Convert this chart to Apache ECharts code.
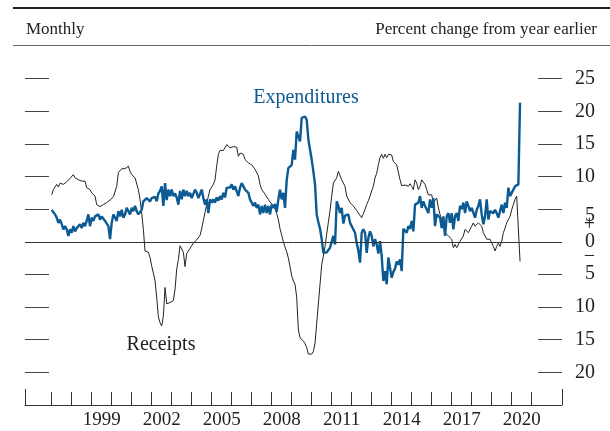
<!DOCTYPE html>
<html>
<head>
<meta charset="utf-8">
<script src="https://cdn.jsdelivr.net/npm/echarts@6/dist/echarts.min.js"></script>
<style>
  html, body { margin: 0; padding: 0; background: #fff; }
  #chart { width: 610px; height: 431px; }
</style>
</head>
<body>
<div id="chart"></div>
<script>
// monthly data, first point = Jan 1997
const startYear = 1997;

const receipts = [
  7.2, 8.0, 7.8, 8.8, 8.4, 9.0, 8.7, 8.8, 8.8, 9.2, 9.5, 9.7,
  9.9, 10.3, 9.8, 9.9, 9.5, 9.8, 9.3, 9.6, 9.3, 8.3, 8.5, 8.0,
  7.5, 7.3, 7.0, 5.7, 5.5, 5.4, 5.2, 5.7, 5.4, 6.0, 6.2, 6.4,
  6.6, 6.9, 7.0, 8.5, 10.6, 10.8, 11.2, 11.0, 11.2, 11.3, 11.6, 10.8,
  10.3, 10.1, 9.8, 9.5, 8.0, 6.5, 4.4, 1.9, -1.4, -1.7, -1.6, -2.4,
  -3.7, -4.8, -6.0, -8.5, -11.5, -12.4, -12.9, -11.4, -7.0, -9.5, -9.3, -9.3,
  -9.1, -9.0, -7.3, -4.2, -2.7, -0.6, -0.6, -1.6, -3.8, -1.8, -1.5, -1.0,
  -0.8, -0.2, 0.1, 0.3, 0.6, 1.0, 2.0, 3.3, 4.5, 5.8, 7.0, 8.0,
  8.3, 8.8, 9.5, 11.6, 13.4, 14.0, 14.2, 14.0, 14.4, 14.9, 15.2, 14.4,
  14.2, 14.6, 14.3, 14.5, 13.1, 13.6, 13.5, 13.4, 12.6, 12.4, 12.1, 11.8,
  11.8, 11.6, 11.1, 11.3, 10.1, 8.8, 8.0, 7.8, 7.3, 7.0, 6.5, 6.1,
  5.8, 5.5, 5.0, 4.4, 3.4, 2.0, 1.0, 0.0, -0.8, -1.5, -2.5, -3.8,
  -5.2, -6.0, -6.5, -8.5, -13.5, -14.7, -14.9, -15.2, -15.6, -16.2, -17.2, -17.5,
  -17.2, -16.8, -15.5, -12.5, -9.5, -6.5, -3.5, -2.2, -0.7, 1.2, 3.0, 4.8,
  7.0, 9.0, 8.8, 9.8, 10.8, 10.8, 9.5, 9.0, 8.5, 7.0, 6.8, 6.0,
  6.0, 5.5, 5.2, 4.8, 4.4, 4.2, 3.7, 4.3, 5.0, 5.7, 6.3, 7.0,
  7.8, 8.5, 9.8, 10.5, 11.8, 12.9, 13.4, 12.8, 13.4, 12.9, 13.4, 13.1,
  13.3, 12.3, 12.5, 11.8, 12.0, 9.5, 8.6, 8.8, 8.7, 8.8, 8.5, 8.9,
  8.5, 8.0, 9.5, 9.0, 8.0, 8.5, 9.5, 9.3, 8.8, 8.0, 7.2, 7.0,
  7.2, 6.0, 5.8, 6.7, 5.2, 4.2, 3.4, 2.4, 1.4, 1.1, 0.9, 0.6,
  0.4, -0.9, -0.4, -0.9, -1.2, 0.1, 0.4, 0.9, 1.9, 1.6, 1.4, 1.9,
  2.4, 2.9, 2.4, 2.2, 2.9, 2.6, 2.4, 1.4, 0.9, 0.4, 0.5, 0.4,
  0.4, -0.7, -1.4, -0.7, -0.2, -0.7, 0.1, 1.4, 2.1, 2.9, 3.4, 3.9,
  4.9, 5.7, 6.5, 7.0, 6.7, -3.0
];

const expenditures = [
  4.9, 4.7, 4.2, 3.7, 2.9, 3.4, 2.7, 1.9, 2.4, 1.9, 0.9, 1.9,
  1.4, 2.4, 1.6, 2.1, 1.9, 2.7, 2.1, 2.9, 2.4, 3.2, 4.2, 2.4,
  3.7, 3.2, 3.9, 3.7, 4.2, 3.4, 3.9, 4.2, 3.2, 3.4, 2.4, 0.4,
  2.9, 4.2, 4.4, 3.2, 4.7, 3.9, 4.9, 3.7, 4.2, 5.2, 4.7, 4.2,
  5.2, 4.7, 5.5, 4.7, 4.2, 4.4, 4.9, 6.2, 5.9, 6.7, 6.4, 6.2,
  6.7, 6.4, 6.9, 6.2, 7.4, 7.8, 8.5, 5.5, 9.0, 6.4, 8.0, 7.0,
  8.0, 7.0, 7.4, 6.8, 5.7, 7.8, 6.5, 8.0, 7.0, 7.8, 7.0, 7.5,
  6.7, 7.0, 8.0, 7.5, 6.7, 7.0, 8.0, 6.7, 5.7, 6.5, 4.4, 6.5,
  6.0, 6.5, 6.0, 6.8, 6.3, 7.0, 6.5, 7.5, 6.8, 8.3, 8.5, 8.3,
  8.8, 8.0, 8.5, 8.5, 7.0, 8.3, 9.0, 8.5, 8.0, 7.8, 7.5, 6.5,
  6.2, 5.5, 6.0, 5.2, 5.7, 4.2, 5.5, 4.4, 5.7, 4.4, 5.5, 4.2,
  5.7, 5.2, 5.8, 4.6, 6.5, 8.0, 6.5, 7.5, 5.2, 9.5, 11.3, 11.0,
  11.8, 14.1, 12.6, 16.9, 16.6, 15.4, 19.0, 19.2, 19.2, 18.7, 15.7, 14.1,
  12.6, 10.8, 8.8, 4.2, 3.0, 2.0, 0.4, -1.7, -1.9, -1.6, -1.7, -0.9,
  -1.0, 0.9, -0.4, 6.2, 5.5, 4.4, 5.2, 2.8, 4.0, 3.7, 4.2, 2.9,
  2.4, 2.7, 1.4, -0.2, -1.4, -3.2, 1.4, 1.9, 1.4, -1.7, 0.6, 1.6,
  0.9, -0.7, 0.4, -0.4, -1.8, 0.1, -2.2, -6.0, -4.5, -6.5, -2.4, -4.0,
  -5.5, -4.6, -4.1, -3.0, -3.5, -2.7, -4.5, 2.0, 1.9, 1.4, 2.4, 2.0,
  3.2, 1.6, 5.7, 5.5, 6.0, 7.0, 5.2, 6.2, 5.5, 5.7, 4.4, 6.5,
  5.2, 6.7, 2.4, 4.2, 3.9, 3.7, 2.1, 3.9, 0.9, 3.9, 4.4, 2.9,
  4.4, 1.9, 3.9, 4.4, 3.2, 5.5, 5.0, 6.0, 4.4, 6.2, 5.5, 4.7,
  5.2, 5.5, 3.7, 4.9, 5.5, 6.5, 4.2, 2.7, 3.9, 6.5, 3.4, 4.7,
  4.4, 4.4, 4.9, 4.4, 3.7, 4.7, 5.7, 4.4, 6.0, 5.2, 8.3, 7.0,
  6.7, 8.0, 8.5, 8.8, 8.8, 21.3
];

const yTicks = [25, 20, 15, 10, 5, 0, -5, -10, -15, -20];
const yearTicks = [1997, 1998, 1999, 2000, 2001, 2002, 2003, 2004, 2005, 2006, 2007, 2008,
  2009, 2010, 2011, 2012, 2013, 2014, 2015, 2016, 2017, 2018, 2019, 2020, 2021];
const yearLabels = [1999, 2002, 2005, 2008, 2011, 2014, 2017, 2020];

const xMin = 1995.665, xMax = 2022.515;
const serif = "'Liberation Serif', 'DejaVu Serif', serif";
const blue = '#0b5a93';
const ink = '#222';

const toPoints = arr => arr.map((v, i) => [startYear + i / 12, v]);

const chart = echarts.init(document.getElementById('chart'));
chart.setOption({
  animation: false,
  grid: { left: 25, right: 48, top: 46, bottom: 26 },
  xAxis: [
    {
      type: 'value', min: xMin, max: xMax,
      axisLine: { onZero: false, lineStyle: { color: '#333', width: 1 } },
      splitLine: { show: false },
      axisTick: { inside: true, length: 13, customValues: yearTicks, lineStyle: { color: '#333' } },
      axisLabel: {
        customValues: yearLabels.map(y => y + 0.5),
        formatter: v => String(Math.floor(v)),
        fontFamily: serif, fontSize: 19, color: ink, margin: 6
      }
    },
    {
      type: 'value', min: xMin, max: xMax, position: 'bottom',
      axisLine: { show: false, onZero: false },
      splitLine: { show: false },
      axisTick: { inside: true, length: 16, customValues: [xMin, xMax], lineStyle: { color: '#333' } },
      axisLabel: { show: false }
    }
  ],
  yAxis: [
    {
      type: 'value', position: 'left', min: -25, max: 30, interval: 5,
      axisLine: { show: false }, splitLine: { show: false },
      axisTick: { inside: true, length: 24, customValues: yTicks, lineStyle: { color: '#444' } },
      axisLabel: { show: false }
    },
    {
      type: 'value', position: 'right', min: -25, max: 30, interval: 5,
      axisLine: { show: false }, splitLine: { show: false },
      axisTick: { inside: true, length: 24, customValues: yTicks, lineStyle: { color: '#444' } },
      axisLabel: {
        customValues: yTicks,
        align: 'right', margin: 33,
        fontFamily: serif, fontSize: 20, color: ink,
        formatter: v => {
          if (v === 5) return '{e1| }\n{a1|5}\n{b1|+}';
          if (v === -5) return '{b2|\u2212}\n{a2|5}\n{e2| }';
          return String(Math.abs(v));
        },
        rich: {
          e1: { fontSize: 20, lineHeight: 22, fontFamily: serif },
          a1: { fontSize: 20, lineHeight: 9, fontFamily: serif, color: ink },
          b1: { fontSize: 20, lineHeight: 8, fontFamily: serif, color: ink },
          b2: { fontSize: 20, lineHeight: 17, fontFamily: serif, color: ink },
          a2: { fontSize: 20, lineHeight: 17, fontFamily: serif, color: ink },
          e2: { fontSize: 20, lineHeight: 19, fontFamily: serif }
        }
      }
    }
  ],
  series: [
    {
      name: 'Receipts', type: 'line', showSymbol: false,
      data: toPoints(receipts),
      lineStyle: { color: ink, width: 1 },
      itemStyle: { color: ink },
      markLine: {
        silent: true, symbol: 'none', label: { show: false },
        lineStyle: { color: '#333', width: 1, type: 'solid' },
        data: [{ yAxis: 0 }]
      },
      z: 2
    },
    {
      name: 'Expenditures', type: 'line', showSymbol: false,
      data: toPoints(expenditures),
      lineStyle: { color: blue, width: 2.4 },
      itemStyle: { color: blue },
      z: 3
    }
  ],
  graphic: [
    { type: 'rect', shape: { x: 13, y: 7, width: 597, height: 2 }, style: { fill: '#222' } },
    { type: 'line', shape: { x1: 13, y1: 45.5, x2: 610, y2: 45.5 }, style: { stroke: '#666', lineWidth: 1 } },
    { type: 'text', x: 26, y: 30, style: { text: 'Monthly', font: '17px ' + serif, fill: ink, textVerticalAlign: 'middle' } },
    { type: 'text', x: 597, y: 30, style: { text: 'Percent change from year earlier', font: '17px ' + serif, fill: ink, textAlign: 'right', textVerticalAlign: 'middle' } },
    { type: 'text', x: 306, y: 98, style: { text: 'Expenditures', font: '20px ' + serif, fill: blue, textAlign: 'center', textVerticalAlign: 'middle' } },
    { type: 'text', x: 161, y: 345, style: { text: 'Receipts', font: '20px ' + serif, fill: ink, textAlign: 'center', textVerticalAlign: 'middle' } }
  ]
});
</script>
</body>
</html>
